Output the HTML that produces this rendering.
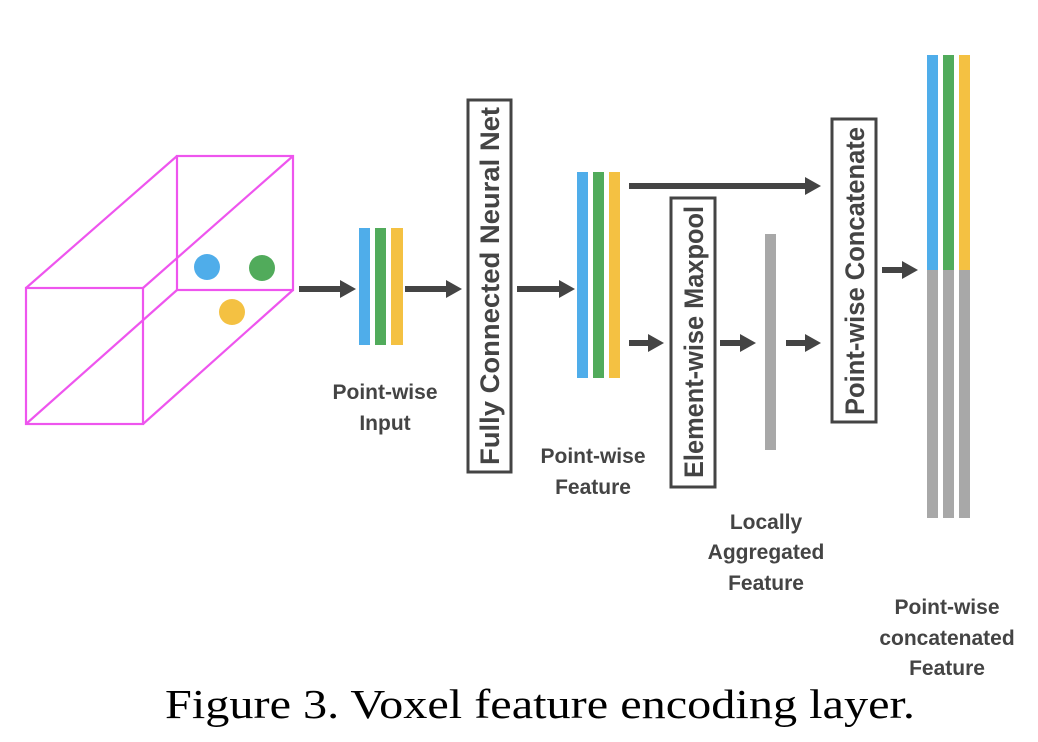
<!DOCTYPE html>
<html><head><meta charset="utf-8"><style>html,body{margin:0;padding:0;background:#fff}svg{display:block}</style></head><body>
<svg width="1038" height="742" viewBox="0 0 1038 742" xmlns="http://www.w3.org/2000/svg">
<g stroke="#ee55ee" stroke-width="2.2" fill="none">
<rect x="177" y="156" width="116" height="134"/>
<rect x="26" y="288" width="117" height="136"/>
<line x1="26" y1="288" x2="177" y2="156"/>
<line x1="143" y1="288" x2="293" y2="156"/>
<line x1="26" y1="424" x2="177" y2="290"/>
<line x1="143" y1="424" x2="293" y2="290"/>
</g>
<circle cx="207" cy="267" r="13" fill="#4fadea"/>
<circle cx="262" cy="268" r="13" fill="#51ab5b"/>
<circle cx="232" cy="312" r="13" fill="#f4c142"/>
<g stroke="#444" stroke-width="6">
<line x1="299" y1="289" x2="342" y2="289"/>
<line x1="405" y1="289" x2="448" y2="289"/>
<line x1="517" y1="289" x2="561" y2="289"/>
<line x1="629" y1="186" x2="808" y2="186"/>
<line x1="629" y1="343" x2="650" y2="343"/>
<line x1="720" y1="343" x2="742" y2="343"/>
<line x1="786" y1="343" x2="808" y2="343"/>
<line x1="882" y1="270" x2="904" y2="270"/>
</g>
<g fill="#444">
<polygon points="340,280 356,289 340,298"/>
<polygon points="446,280 462,289 446,298"/>
<polygon points="559,280 575,289 559,298"/>
<polygon points="805,177 821,186 805,195"/>
<polygon points="648,334 664,343 648,352"/>
<polygon points="740,334 756,343 740,352"/>
<polygon points="805,334 821,343 805,352"/>
<polygon points="902,261 918,270 902,279"/>
</g>
<rect x="359" y="228" width="11" height="117" fill="#4fadea"/>
<rect x="375" y="228" width="11" height="117" fill="#51ab5b"/>
<rect x="391" y="228" width="12" height="117" fill="#f4c142"/>
<rect x="577" y="172" width="11" height="206" fill="#4fadea"/>
<rect x="593" y="172" width="11" height="206" fill="#51ab5b"/>
<rect x="609" y="172" width="11" height="206" fill="#f4c142"/>
<rect x="765" y="234" width="11" height="216" fill="#a8a8a8"/>
<rect x="927" y="55" width="11" height="215" fill="#4fadea"/>
<rect x="943" y="55" width="11" height="215" fill="#51ab5b"/>
<rect x="959" y="55" width="11" height="215" fill="#f4c142"/>
<rect x="927" y="270" width="11" height="248" fill="#a8a8a8"/>
<rect x="943" y="270" width="11" height="248" fill="#a8a8a8"/>
<rect x="959" y="270" width="11" height="248" fill="#a8a8a8"/>
<g fill="none" stroke="#444" stroke-width="3">
<rect x="468" y="100" width="43" height="372"/>
<rect x="671" y="198" width="44" height="289"/>
<rect x="832" y="119" width="44" height="303"/>
</g>
<g font-family="Liberation Sans, sans-serif" font-weight="bold" fill="#444" font-size="27">
<text transform="translate(499,286) rotate(-90)" text-anchor="middle" textLength="358" lengthAdjust="spacingAndGlyphs">Fully Connected Neural Net</text>
<text transform="translate(703,342) rotate(-90)" text-anchor="middle" textLength="272" lengthAdjust="spacingAndGlyphs">Element-wise Maxpool</text>
<text transform="translate(864,271) rotate(-90)" text-anchor="middle" textLength="288" lengthAdjust="spacingAndGlyphs">Point-wise Concatenate</text>
</g>
<g font-family="Liberation Sans, sans-serif" font-weight="bold" fill="#444" font-size="21" text-anchor="middle">
<text x="385" y="399">Point-wise</text><text x="385" y="430">Input</text>
<text x="593" y="463">Point-wise</text><text x="593" y="494">Feature</text>
<text x="766" y="529">Locally</text><text x="766" y="559">Aggregated</text><text x="766" y="590">Feature</text>
<text x="947" y="614">Point-wise</text><text x="947" y="645">concatenated</text><text x="947" y="675">Feature</text>
</g>
<text x="540" y="718" font-family="Liberation Serif, serif" font-size="41" text-anchor="middle" textLength="750" lengthAdjust="spacingAndGlyphs" fill="#000">Figure 3. Voxel feature encoding layer.</text>
</svg>
</body></html>
